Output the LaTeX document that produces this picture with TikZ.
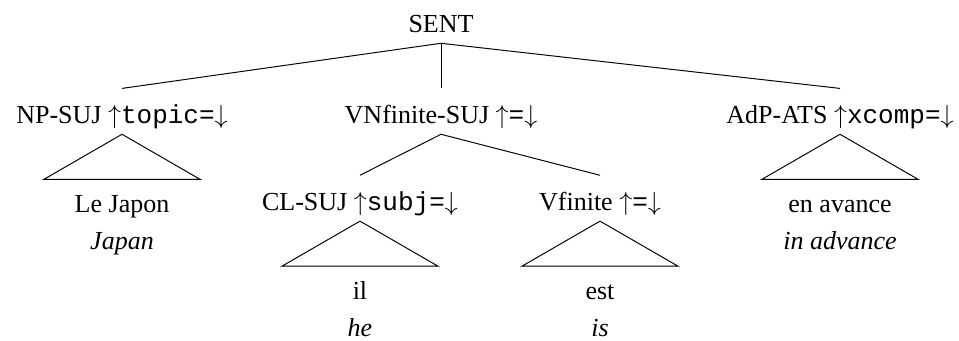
\documentclass[tikz,border=0pt,12pt]{standalone}
\usepackage{fontspec}
\setmainfont{Liberation Serif}
\setmonofont{Liberation Mono}
\usepackage{tikz}
\newcommand{\feat}[1]{$\uparrow$\texttt{#1=}$\downarrow$}
\tikzset{
  cat/.style={anchor=base, inner sep=0pt, text height=0.57cm, text depth=0.16cm},
  word/.style={anchor=base, inner sep=0pt},
  gloss/.style={anchor=base, inner sep=0pt, font=\itshape},
  branch/.style={line width=0.45pt},
  roof/.style={line width=0.45pt, line join=miter}
}
\begin{document}
\begin{tikzpicture}[x=1cm,y=1cm]
\useasboundingbox (0,0) rectangle (15.555,-5.515);
% categories
\node[cat] (sent) at (7.153,-0.535) {SENT};
\node[cat] (np) at (1.979,-2.011) {NP-SUJ \feat{topic}};
\node[cat] (vn) at (7.153,-2.011) {VNfinite-SUJ \feat{}};
\node[cat] (ats) at (13.625,-2.011) {AdP-ATS \feat{xcomp}};
\node[cat] (cl) at (5.839,-3.42) {CL-SUJ \feat{subj}};
\node[cat] (vf) at (9.732,-3.42) {Vfinite \feat{}};
% words and glosses
\node[word] (lejapon) at (1.979,-3.44) {Le Japon};
\node[gloss] (japan) at (1.979,-4.055) {Japan};
\node[word] (il) at (5.839,-4.866) {il};
\node[gloss] (he) at (5.839,-5.466) {he};
\node[word] (est) at (9.732,-4.866) {est};
\node[gloss] (is) at (9.732,-5.466) {is};
\node[word] (enavance) at (13.625,-3.44) {en avance};
\node[gloss] (inadvance) at (13.625,-4.055) {in advance};
% branches
\draw[branch] (sent.south) -- (np.north);
\draw[branch] (sent.south) -- (vn.north);
\draw[branch] (sent.south) -- (ats.north);
\draw[branch] (vn.south) -- (cl.north);
\draw[branch] (vn.south) -- (vf.north);
% roofs over the unanalysed phrases
\foreach \n in {np,ats,cl,vf}
  \draw[roof] (\n.south) -- ++(-1.265,-0.73) -- ++(2.53,0) -- cycle;
\end{tikzpicture}
\end{document}
